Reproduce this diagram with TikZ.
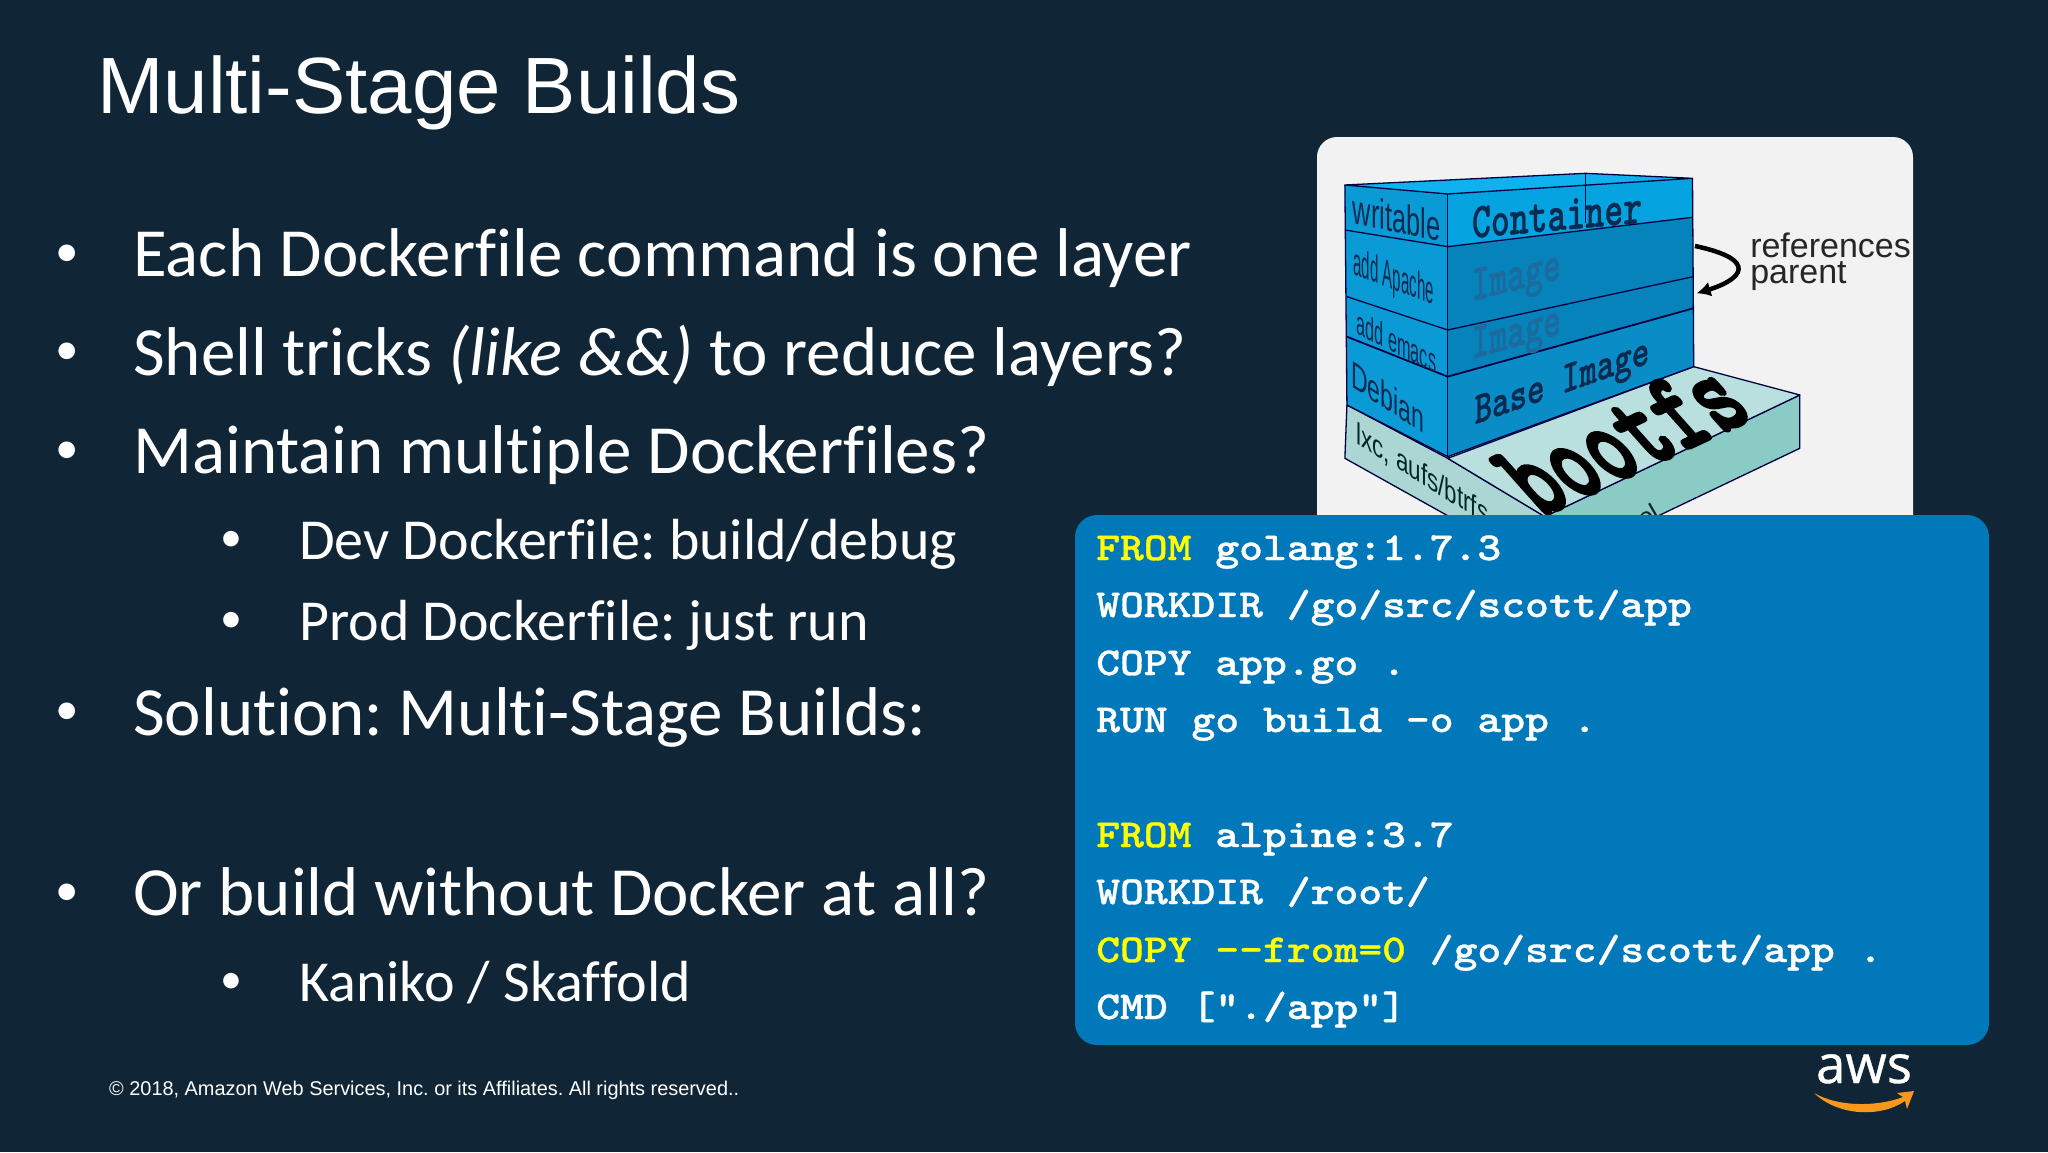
\documentclass[tikz,border=0pt]{standalone}
\usetikzlibrary{arrows.meta}
\usepackage{fontspec}
\setmainfont{Carlito}[Ligatures=NoCommon]
\newfontfamily\codefont{lmmonolt10-bold.otf}[FakeBold=0.8]
\newfontfamily\heavyfont{lmmonolt10-bold.otf}[FakeBold=3]
\newfontfamily\headfont{Liberation Sans}
\newfontfamily\logofont{Open Sans}[FakeBold=0.7]
\definecolor{bgc}{HTML}{102535}
\definecolor{codebox}{HTML}{0078BA}
\definecolor{panelc}{HTML}{F2F2F2}
\definecolor{hl}{HTML}{FFFF00}
\definecolor{topf}{HTML}{0FB2EE}
\definecolor{contr}{HTML}{05A4E0}
\definecolor{contl}{HTML}{0A9AD6}
\definecolor{imgr}{HTML}{0683BA}
\definecolor{basef}{HTML}{0A8CC6}
\definecolor{bootT}{HTML}{B9E0DE}
\definecolor{bootR}{HTML}{8ACBC6}
\definecolor{bootL}{HTML}{ABD6D4}
\definecolor{inkb}{HTML}{0A2A50}
\definecolor{inkg}{HTML}{1C6A9E}
\definecolor{orng}{HTML}{F7981D}
\tikzset{
 x=1pt,y=-1pt,
 lvlone/.style={anchor=base west,inner sep=0pt,text=white,font=\fontsize{69}{72}\selectfont},
 lvltwo/.style={anchor=base west,inner sep=0pt,text=white,font=\fontsize{58}{60}\selectfont},
 bulone/.style={anchor=base,inner sep=0pt,text=white,font=\fontsize{47}{50}\selectfont},
 bultwo/.style={anchor=base,inner sep=0pt,text=white,font=\fontsize{44}{46}\selectfont},
 codeline/.style={anchor=base west,inner sep=0pt,text=white,xscale=1.146,font=\fontsize{39.6}{44}\codefont\selectfont},
 edgeline/.style={draw=black!75!blue,line width=1.3pt,line join=round},
 mono/.style={inner sep=0pt,font=\fontsize{#1}{#1}\codefont\selectfont},
 side/.style={inner sep=0pt,text=inkb,font=\fontsize{#1}{#1}\headfont\selectfont},
 refl/.style={anchor=base west,inner sep=0pt,text=black!85,font=\fontsize{34}{36}\headfont\selectfont},
}
\newcommand{\yl}[1]{\textcolor{hl}{#1}}
\begin{document}
\frenchspacing
\begin{tikzpicture}
\useasboundingbox (0,0) rectangle (2048,1152);
\fill[bgc] (0,0) rectangle (2048,1152);
\node[anchor=base west,inner sep=0pt,text=white,font=\fontsize{79.8}{82}\headfont\selectfont] (title) at (97,113) {Multi-Stage Builds};

\node[bulone] (b1) at (67,266) {•};
\node[lvlone] (t1) at (133,276) {Each Dockerfile command is one layer};
\node[bulone] (b2) at (67,364) {•};
\node[lvlone] (t2) at (133,375) {Shell tricks \textit{(like \&\&)} to reduce layers?};
\node[bulone] (b3) at (67,463) {•};
\node[lvlone] (t3) at (133,473) {Maintain multiple Dockerfiles?};
\node[bultwo] (b4) at (231,551) {•};
\node[lvltwo] (t4) at (299,559) {Dev Dockerfile: build/debug};
\node[bultwo] (b5) at (231,632) {•};
\node[lvltwo] (t5) at (299,640) {Prod Dockerfile: just run};
\node[bulone] (b6) at (67,724) {•};
\node[lvlone] (t6) at (133,735) {Solution: Multi-Stage Builds:};
\node[bulone] (b7) at (67,905) {•};
\node[lvlone] (t7) at (133,915) {Or build without Docker at all?};
\node[bultwo] (b8) at (231,993) {•};
\node[lvltwo] (t8) at (299,1001) {Kaniko / Skaffold};

\node[anchor=base west,inner sep=0pt,text=white,font=\fontsize{19.9}{24}\headfont\selectfont] (foot) at (109,1095) {© 2018, Amazon Web Services, Inc. or its Affiliates. All rights reserved..};

% picture panel
\fill[panelc,rounded corners=20pt] (1317,137) rectangle (1913,560);
\begin{scope}[shift={(1300,120)},x=0.408pt,y=-0.3333pt]
 % bootfs slab
 \filldraw[fill=bootL,edgeline] (115,855) -- (362,1015) -- (600,1190) -- (600,1350) -- (110,1015) -- cycle;
 \filldraw[fill=bootR,edgeline] (600,1190) -- (1225,825) -- (1225,985) -- (600,1350) -- cycle;
 \filldraw[fill=bootT,edgeline] (362,1015) -- (965,740) -- (1225,825) -- (600,1190) -- cycle;
 % right faces
 \fill[contr] (362,222) -- (962,175) -- (962,292) -- (362,380) -- cycle;
 \fill[imgr] (362,380) -- (962,292) -- (964,565) -- (362,770) -- cycle;
 \fill[basef] (362,770) -- (964,565) -- (965,740) -- (362,1010) -- cycle;
 % left faces
 \fill[contl] (110,195) -- (362,222) -- (362,1010) -- (115,855) -- cycle;
 % top
 \filldraw[fill=topf,edgeline] (110,195) -- (700,160) -- (962,175) -- (362,222) -- cycle;
 % outlines
 \draw[edgeline] (110,195) -- (115,855) -- (362,1010) -- (965,740) -- (962,175);
 \draw[edgeline] (362,222) -- (362,1010);
 \draw[edgeline] (110,330) -- (362,380) -- (962,292);
 \draw[edgeline] (115,530) -- (362,630) -- (964,470);
 \draw[edgeline,line width=1.8pt] (115,650) -- (362,770) -- (964,565);
 \draw[edgeline,line width=.8pt] (700,160) -- (700,310);
 % labels
 \node[mono=36,text=inkb,yslant=.09,yscale=1.4] (lc) at (630,285) {Container};
 \node[mono=34,text=inkg,yslant=.25,yscale=1.5] (li1) at (530,480) {Image};
 \node[mono=34,text=inkg,yslant=.28,yscale=1.5] (li2) at (530,650) {Image};
 \node[mono=35,text=inkb,yslant=.35,xscale=.95,yscale=1.3] (lb) at (642,795) {Base Image};
 \node[inner sep=0pt,font=\fontsize{76}{76}\heavyfont\selectfont,text=black,rotate=25,xslant=-.3,yscale=1.6] (lf) at (790,955) {bootfs};
 \node[side=31,yslant=-.2,xscale=.82,yscale=1.35] (lw) at (237,292) {writable};
 \node[side=26,yslant=-.38,xscale=.58,yscale=1.5] (la) at (230,478) {add Apache};
 \node[side=24,yslant=-.5,xscale=.68,yscale=1.4] (le) at (236,665) {add emacs};
 \node[side=33,yslant=-.65,xscale=.7,yscale=1.15] (ld) at (215,830) {Debian};
 \node[side=28,yslant=-.62,text=black!70!teal,xscale=.8,yscale=1.1] (ll) at (300,1065) {lxc, aufs/btrfs};
 \node[side=26,rotate=30,text=black!70!teal] (lk) at (800,1225) {kernel};
 \node[refl] (r1) at (1103,412) {references};
 \node[refl] (r2) at (1103,490) {parent};
 \coordinate (ra) at (968,378);
 \coordinate (rb) at (972,520);
 \draw[line width=4.5pt,black,-{Latex[length=14pt,width=15pt]}] (ra) .. controls (1130,420) and (1080,480) .. (rb);
\end{scope}

% code box
\fill[codebox,rounded corners=22pt] (1075,515) rectangle (1989,1045);
\node[codeline] (c1) at (1096,560) {\yl{FROM} golang:1.7.3};
\node[codeline] (c2) at (1096,617) {WORKDIR /go/src/scott/app};
\node[codeline] (c3) at (1096,675) {COPY app.go .};
\node[codeline] (c4) at (1096,732) {RUN go build -o app .};
\node[codeline] (c5) at (1096,847) {\yl{FROM} alpine:3.7};
\node[codeline] (c6) at (1096,904) {WORKDIR /root/};
\node[codeline] (c7) at (1096,962) {\yl{COPY -{}-from=0} /go/src/scott/app .};
\node[codeline] (c8) at (1096,1019) {CMD ["./app"]};

% logo
\node[anchor=base,inner sep=0pt,text=white,font=\fontsize{53}{55}\logofont\selectfont] (aws) at (1864,1083) {aws};
\fill[orng] (1814,1093) .. controls (1840,1108) and (1880,1106) .. (1903,1097) -- (1897,1093) -- (1914,1091) -- (1907,1109) -- (1905,1101) .. controls (1880,1118) and (1838,1116) .. (1814,1093) -- cycle;
\end{tikzpicture}
\end{document}
